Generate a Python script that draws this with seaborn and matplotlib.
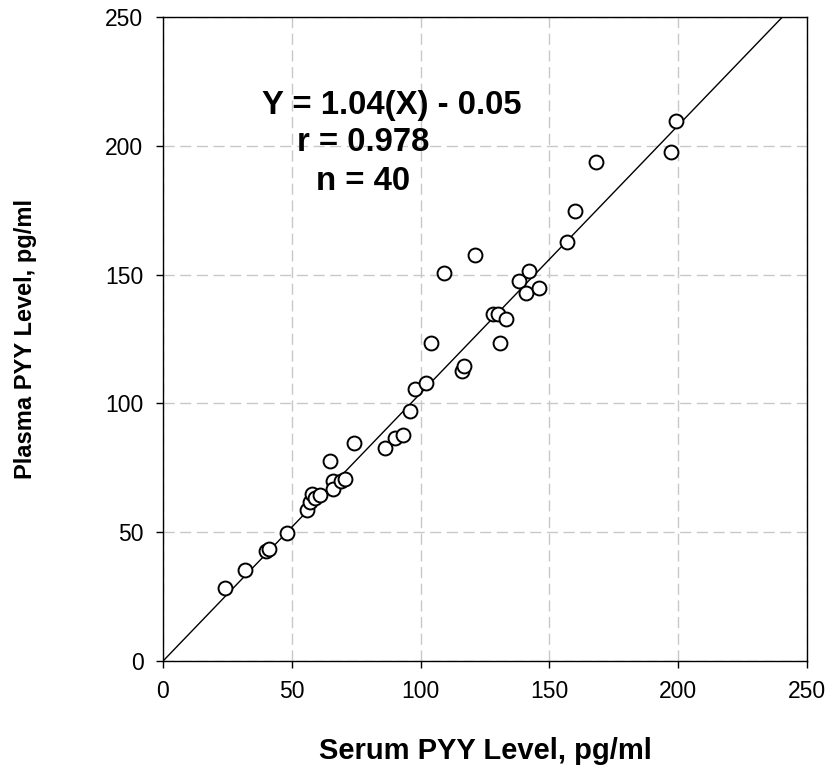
import matplotlib
matplotlib.use("Agg")
import matplotlib.pyplot as plt
import seaborn as sns
import numpy as np
import pandas as pd

serum = [24, 32, 40, 41, 48, 56, 57, 58, 59, 61,
         65, 66, 66, 69, 70.5, 74, 86, 90, 93, 96,
         98, 102, 104, 109, 121, 116, 117, 128, 130, 133,
         131, 138, 142, 141, 146, 157, 160, 168, 197, 199]
plasma = [28.5, 35.5, 42.7, 43.5, 49.7, 58.6, 61.7, 64.8, 63.3, 64.4,
          77.6, 69.9, 66.8, 69.9, 70.7, 84.6, 82.6, 86.5, 87.7, 97.1,
          105.6, 107.9, 123.6, 150.5, 157.6, 112.7, 114.5, 134.6, 134.6, 132.6,
          123.6, 147.5, 151.5, 142.7, 144.6, 162.5, 174.7, 193.7, 197.7, 209.6]
slope = 1.04
intercept = -0.05
ticks = [0, 50, 100, 150, 200, 250]
eq_lines = ["Y = 1.04(X) - 0.05", "r = 0.978", "n = 40"]

df = pd.DataFrame({"serum": serum, "plasma": plasma})

sns.set_style("white")
plt.rcParams['font.family'] = ['Liberation Sans', 'DejaVu Sans']
plt.rcParams['text.color'] = 'black'
plt.rcParams['axes.labelcolor'] = 'black'
plt.rcParams['xtick.color'] = 'black'
plt.rcParams['ytick.color'] = 'black'

fig = plt.figure(figsize=(8.27, 7.69), dpi=100)
ax = fig.add_axes([0.197, 0.1404, 0.779, 0.8376])

ax.set_xlim(0, 250)
ax.set_ylim(0, 250)
ax.set_xticks(ticks)
ax.set_yticks(ticks)
ax.grid(True, color="#c8c8c8", linestyle=(0, (8, 4)), linewidth=1.0)
ax.set_axisbelow(True)

xl = np.array([0, (250 - intercept) / slope])
ax.plot(xl, slope * xl + intercept, color="black", linewidth=1.0, zorder=2)

sns.scatterplot(data=df, x="serum", y="plasma", ax=ax, s=100, marker="o",
                facecolor="white", edgecolor="black", linewidth=1.4, zorder=3)

for s in ax.spines.values():
    s.set_color("black")
    s.set_linewidth(1.0)

ax.tick_params(axis="both", direction="out", length=5, width=1, color="black",
               labelsize=16.5, bottom=True, left=True)
ax.tick_params(axis="x", pad=9)
ax.tick_params(axis="y", pad=9)

ax.set_xlabel("Serum PYY Level, pg/ml", fontsize=21, fontweight="bold")
ax.set_ylabel("Plasma PYY Level, pg/ml", fontsize=17, fontweight="bold")
ax.xaxis.set_label_coords(0.5, -0.118)
ax.yaxis.set_label_coords(-0.195, 0.5)

ax.text(88.9, 215.8, eq_lines[0], fontsize=23.7, fontweight="bold", ha="center", va="center")
ax.text(77.6, 201.1, eq_lines[1], fontsize=23.7, fontweight="bold", ha="center", va="center")
ax.text(77.6, 186.3, eq_lines[2], fontsize=23.7, fontweight="bold", ha="center", va="center")

fig.savefig("out.png", dpi=100, facecolor="white")
